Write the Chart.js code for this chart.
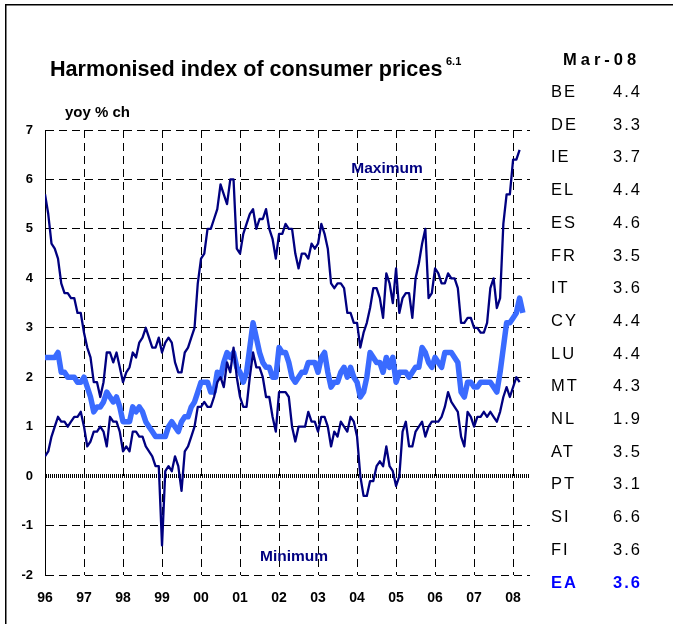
<!DOCTYPE html>
<html lang="en">
<head>
<meta charset="UTF-8">
<title>Harmonised index of consumer prices</title>
<script src="https://cdn.jsdelivr.net/npm/chart.js@4"></script>
<style>
  html, body { margin: 0; padding: 0; background: #fff; }
  #wrap { position: relative; width: 673px; height: 624px; }
</style>
</head>
<body>
<div id="wrap"><canvas id="hicp" width="673" height="624"></canvas></div>

<script>
  // year tick labels, one per January (month index 0 = Jan 1996)
  const yearLabels = ['96', '97', '98', '99', '00', '01', '02', '03', '04', '05', '06', '07', '08'];

  // yoy % ch, monthly from Jan 96 to Mar 08 (highest member country)
  const maxValues = [
    5.7, 5.3, 4.7, 4.6, 4.4, 3.9, 3.7, 3.7, 3.6, 3.6, 3.3, 3.3,
    2.9, 2.6, 2.4, 1.9, 1.9, 1.6, 1.9, 2.5, 2.5, 2.3, 2.5, 2.2,
    1.9, 2.1, 2.2, 2.5, 2.4, 2.7, 2.8, 3.0, 2.8, 2.6, 2.6, 2.8,
    2.5, 2.7, 2.8, 2.7, 2.3, 2.1, 2.1, 2.5, 2.6, 2.8, 3.0, 3.9,
    4.4, 4.5, 5.0, 5.0, 5.2, 5.4, 5.9, 5.7, 5.5, 6.0, 6.0, 4.6,
    4.5, 4.9, 5.1, 5.3, 5.4, 5.0, 5.2, 5.2, 5.4, 5.0, 4.8, 4.4,
    4.9, 4.9, 5.1, 5.0, 5.0, 4.5, 4.2, 4.5, 4.5, 4.4, 4.7, 4.6,
    4.7, 5.1, 4.9, 4.6, 3.9, 3.8, 3.9, 3.9, 3.8, 3.3, 3.3, 3.1,
    3.1, 2.6, 2.9, 3.1, 3.4, 3.8, 3.8, 3.6, 3.2, 4.1, 3.9, 3.5,
    4.2, 3.3, 3.6, 3.7, 3.7, 3.2, 4.0, 4.3, 4.7, 5.0, 3.6, 3.7,
    4.2, 4.1, 3.9, 3.9, 4.1, 4.0, 4.0, 3.8, 3.1, 3.1, 3.2, 3.2,
    3.0, 3.0, 2.9, 2.9, 3.1, 3.8, 4.0, 3.4, 3.6, 5.1, 5.7, 5.7,
    6.4, 6.4, 6.6
  ];

  // lowest member country
  const minValues = [
    0.4, 0.5, 0.8, 1.0, 1.2, 1.1, 1.1, 1.0, 1.1, 1.2, 1.2, 1.3,
    1.0, 0.6, 0.7, 0.9, 0.9, 1.0, 0.9, 0.6, 1.2, 1.1, 1.1, 0.9,
    0.5, 0.6, 0.5, 0.9, 0.9, 0.8, 0.8, 0.6, 0.5, 0.4, 0.2, 0.2,
    -1.4, 0.1, 0.2, 0.1, 0.4, 0.2, -0.3, 0.5, 0.6, 0.8, 1.0, 1.4,
    1.4, 1.5, 1.4, 1.4, 1.6, 1.9, 2.0, 1.8, 2.3, 2.1, 2.6, 2.0,
    1.6, 1.4, 1.4, 2.0, 2.5, 2.2, 2.2, 2.0, 1.6, 1.6, 1.2, 0.9,
    1.7, 1.7, 1.7, 1.6, 1.0, 0.7, 1.0, 1.0, 1.0, 1.3, 1.1, 1.1,
    0.9, 1.2, 1.2, 1.0, 0.6, 0.9, 0.8, 1.1, 1.0, 0.9, 1.2, 1.1,
    0.8, 0.0, -0.4, -0.4, -0.1, -0.1, 0.2, 0.3, 0.2, 0.6, 0.2, 0.1,
    -0.2, 0.0, 0.9, 1.1, 0.6, 0.6, 0.9, 1.0, 1.1, 0.8, 1.0, 1.1,
    1.1, 1.1, 1.2, 1.4, 1.7, 1.5, 1.4, 1.3, 0.8, 0.6, 1.3, 1.2,
    1.0, 1.2, 1.2, 1.3, 1.2, 1.3, 1.2, 1.1, 1.3, 1.6, 1.8, 1.6,
    1.8, 2.0, 1.9
  ];

  // euro area (runs one month further, to Apr 08)
  const eaValues = [
    2.4, 2.4, 2.4, 2.4, 2.5, 2.1, 2.1, 2.0, 2.0, 2.0, 1.9, 1.9,
    2.0, 1.8, 1.6, 1.3, 1.4, 1.4, 1.5, 1.7, 1.6, 1.5, 1.6, 1.4,
    1.1, 1.1, 1.1, 1.4, 1.3, 1.4, 1.3, 1.1, 1.0, 0.9, 0.8, 0.8,
    0.8, 0.8, 1.0, 1.1, 1.0, 0.9, 1.1, 1.2, 1.2, 1.4, 1.5, 1.7,
    1.9, 1.9, 1.9, 1.7, 1.7, 2.1, 2.0, 2.3, 2.5, 2.4, 2.5, 2.2,
    2.1, 1.9, 2.1, 2.6, 3.1, 2.8, 2.5, 2.3, 2.2, 2.2, 2.0, 2.0,
    2.6, 2.5, 2.5, 2.3, 2.0, 1.9, 2.0, 2.1, 2.1, 2.3, 2.3, 2.3,
    2.1, 2.4, 2.5, 2.1, 1.8, 1.9, 1.9, 2.1, 2.2, 2.0, 2.2, 2.0,
    1.9, 1.6, 1.7, 2.0, 2.5, 2.4, 2.3, 2.3, 2.1, 2.4, 2.2, 2.4,
    1.9, 2.1, 2.1, 2.1, 2.0, 2.1, 2.2, 2.2, 2.6, 2.5, 2.3, 2.2,
    2.4, 2.3, 2.2, 2.5, 2.5, 2.5, 2.4, 2.3, 1.7, 1.6, 1.9, 1.9,
    1.8, 1.8, 1.9, 1.9, 1.9, 1.9, 1.8, 1.7, 2.1, 2.6, 3.1, 3.1,
    3.2, 3.3, 3.6, 3.3
  ];

  // table on the right
  const latestMonth = 'Mar-08';
  const countries = ['BE', 'DE', 'IE', 'EL', 'ES', 'FR', 'IT', 'CY', 'LU', 'MT', 'NL', 'AT', 'PT', 'SI', 'FI', 'EA'];
  const latestValues = [4.4, 3.3, 3.7, 4.4, 4.6, 3.5, 3.6, 4.4, 4.4, 4.3, 1.9, 3.5, 3.1, 6.6, 3.6, 3.6];

  const FONT = '"Liberation Sans", Arial, Helvetica, sans-serif';
  const NAVY = '#000080';
  const EA_BLUE = '#3a6bff';

  const toPoints = arr => arr.map((v, i) => ({ x: i, y: v }));

  // texts, frame and table drawn around the plot
  const decor = {
    id: 'decor',
    beforeDraw(chart) {
      const c = chart.ctx;
      c.save();
      c.fillStyle = '#fff';
      c.fillRect(0, 0, chart.width, chart.height);
      c.strokeStyle = '#000';
      c.lineWidth = 1.5;
      c.beginPath();
      c.moveTo(5.75, chart.height);
      c.lineTo(5.75, 4.75);
      c.lineTo(chart.width, 4.75);
      c.stroke();
      c.restore();
    },
    afterDraw(chart) {
      const c = chart.ctx;
      c.save();
      c.textBaseline = 'alphabetic';
      c.fillStyle = '#000';
      c.textAlign = 'left';
      c.font = 'bold 21.6px ' + FONT;
      c.fillText('Harmonised index of consumer prices', 50, 76);
      c.font = 'bold 11px ' + FONT;
      c.fillText('6.1', 446, 65);
      c.font = 'bold 15px ' + FONT;
      c.fillText('yoy % ch', 65, 117);

      c.fillStyle = NAVY;
      c.textAlign = 'center';
      c.font = 'bold 15.5px ' + FONT;
      c.fillText('Maximum', 387, 173);
      c.fillText('Minimum', 294, 561);

      // table
      c.fillStyle = '#000';
      c.font = 'bold 16.5px ' + FONT;
      c.textAlign = 'left';
      c.letterSpacing = '4px';
      c.fillText(latestMonth, 563, 65);
      c.letterSpacing = '2px';
      countries.forEach((code, k) => {
        const y = 97 + k * 32.7;
        const isEA = code === 'EA';
        c.fillStyle = isEA ? '#0000ff' : '#000';
        c.font = (isEA ? 'bold ' : '') + '16.5px ' + FONT;
        c.fillText(code, 551, y);
        c.fillText(latestValues[k].toFixed(1), 613, y);
      });
      c.restore();
    }
  };

  const ctx = document.getElementById('hicp').getContext('2d');

  const hicpChart = new Chart(ctx, {
    type: 'line',
    data: {
      datasets: [
        { label: 'Maximum', data: toPoints(maxValues), borderColor: NAVY, borderWidth: 2.3 },
        { label: 'Minimum', data: toPoints(minValues), borderColor: NAVY, borderWidth: 2.3 },
        { label: 'EA', data: toPoints(eaValues), borderColor: EA_BLUE, borderWidth: 5.5 }
      ]
    },
    options: {
      responsive: false,
      animation: false,
      devicePixelRatio: 1,
      layout: { padding: { left: 0, top: 130, right: 143, bottom: 9 } },
      elements: {
        point: { radius: 0 },
        line: { tension: 0, borderJoinStyle: 'round', borderCapStyle: 'butt', fill: false }
      },
      plugins: {
        legend: { display: false },
        tooltip: { enabled: false }
      },
      scales: {
        x: {
          type: 'linear',
          min: 0,
          max: 149.2,
          afterFit: s => { s.height = 40; },
          afterBuildTicks: s => { s.ticks = yearLabels.map((_, k) => ({ value: k * 12 })); },
          grid: { color: '#000', lineWidth: 1, drawTicks: false },
          border: { display: false, dash: [8, 5] },
          ticks: {
            autoSkip: false,
            maxRotation: 0,
            padding: 15,
            color: '#000',
            font: { family: FONT, size: 14, weight: 'bold' },
            callback: v => yearLabels[Math.round(v / 12)]
          }
        },
        y: {
          min: -2,
          max: 7,
          afterFit: s => { s.width = 45; },
          grid: {
            color: '#000',
            lineWidth: c => (c.tick && c.tick.value === 0 ? 4 : 1),
            drawTicks: false
          },
          border: {
            display: true,
            color: '#000',
            width: 1,
            dash: c => (c.tick && c.tick.value === 0 ? [1, 1] : [8, 5])
          },
          ticks: {
            stepSize: 1,
            padding: 12,
            color: '#000',
            font: { family: FONT, size: 13, weight: 'bold' }
          }
        }
      }
    },
    plugins: [decor]
  });
</script>
</body>
</html>
